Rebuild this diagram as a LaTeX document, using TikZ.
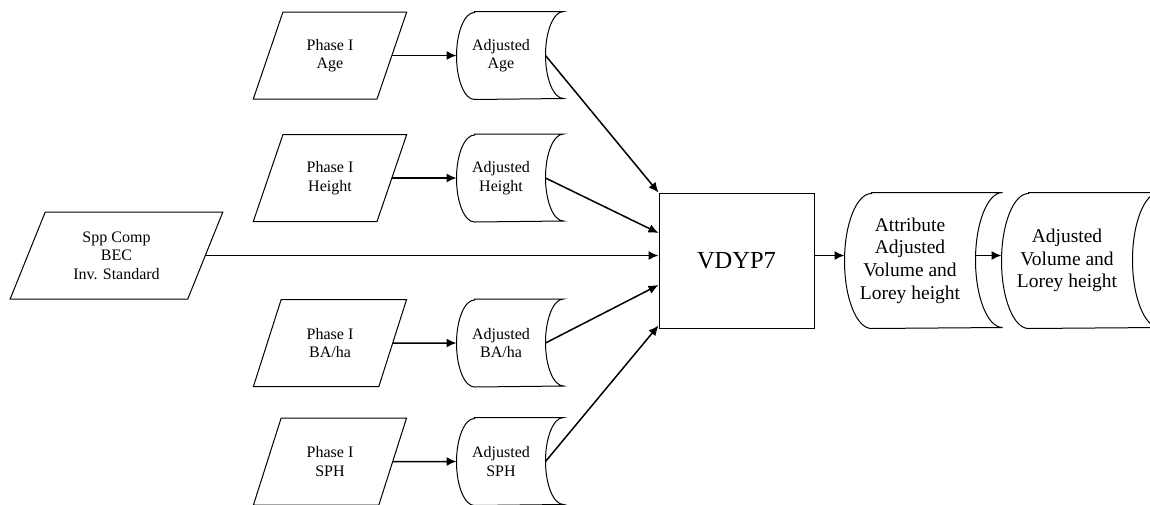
\documentclass[tikz,border=0pt]{standalone}
\usepackage{fontspec}
\setmainfont{Liberation Serif}
\usetikzlibrary{shapes.geometric,arrows.meta}

\begin{document}
\begin{tikzpicture}[x=1pt,y=1pt,>={Latex[length=10pt,width=9pt]},line width=1pt,
  inbox/.style={trapezium,trapezium left angle=66,trapezium right angle=114,trapezium stretches=true,
    draw,minimum width=154pt,minimum height=87pt,inner sep=0pt,align=center,font=\fontsize{16}{18.5}\selectfont},
  store/.style={minimum width=88pt,minimum height=87pt,inner sep=0pt,align=center,font=\fontsize{16}{18.5}\selectfont},
  bigstore/.style={store,minimum width=130pt,minimum height=135pt,font=\fontsize{19.5}{22.7}\selectfont},
  procbox/.style={draw,minimum width=155pt,minimum height=135pt,inner sep=0pt,font=\fontsize{24.5}{28}\selectfont},
  flow/.style={->,line width=1.5pt}]
  \useasboundingbox (0,0) rectangle (1150,-504);
  % inputs
  \node[inbox] (phage) at (330,-55.5) {Phase I\\Age};
  \node[inbox] (phht) at (330,-178) {Phase I\\Height};
  \node[inbox] (phba) at (330,-343) {Phase I\\BA/ha};
  \node[inbox] (phsph) at (330,-461.5) {Phase I\\SPH};
  \node[inbox,minimum width=213pt] (spp) at (116.5,-255.5) {Spp Comp\\BEC\\Inv. Standard};
  % adjusted data
  \node[store] (adjage) at (501,-55.5) {Adjusted\\Age};
  \node[store] (adjht) at (501,-178) {Adjusted\\Height};
  \node[store] (adjba) at (501,-343) {Adjusted\\BA/ha};
  \node[store] (adjsph) at (501,-461.5) {Adjusted\\SPH};
  % model and outputs
  \node[procbox] (vdyp) at (736.5,-260.5) {VDYP7};
  \node[bigstore] (attr) at (910,-260.5) {Attribute\\Adjusted\\Volume and\\Lorey height};
  \node[bigstore] (vol) at (1067,-260.5) {Adjusted\\Volume and\\Lorey height};
  % stored data outlines
  \foreach \n/\d/\r in {adjage/18/43.5,adjht/18/43.5,adjba/18/43.5,adjsph/18/43.5,attr/27/67.5,vol/27/67.5}
    \draw ([xshift=\d pt]\n.north west) -- ([xshift=\d pt]\n.north east)
      arc[start angle=90,end angle=270,x radius=\d pt,y radius=\r pt]
      -- ([xshift=\d pt]\n.south west)
      arc[start angle=270,end angle=90,x radius=\d pt,y radius=\r pt] -- cycle;
  % arrows
  \foreach \a/\b in {phage/adjage,phht/adjht,phba/adjba,phsph/adjsph}
    \draw[flow] (\a.east) -- (\b.west);
  \draw[flow] (adjage.east) -- (vdyp.north west);
  \draw[flow] (adjht.east) -- ([yshift=27.5pt]vdyp.west);
  \draw[flow] (spp.east) -- (spp.east -| vdyp.west);
  \draw[flow] (adjba.east) -- ([yshift=-24.5pt]vdyp.west);
  \draw[flow] (adjsph.east) -- ([yshift=3pt]vdyp.south west);
  \draw[flow] (spp.east -| vdyp.east) -- (spp.east -| attr.west);
  \draw[flow] (spp.east -| attr.east) -- (spp.east -| vol.west);
\end{tikzpicture}
\end{document}
